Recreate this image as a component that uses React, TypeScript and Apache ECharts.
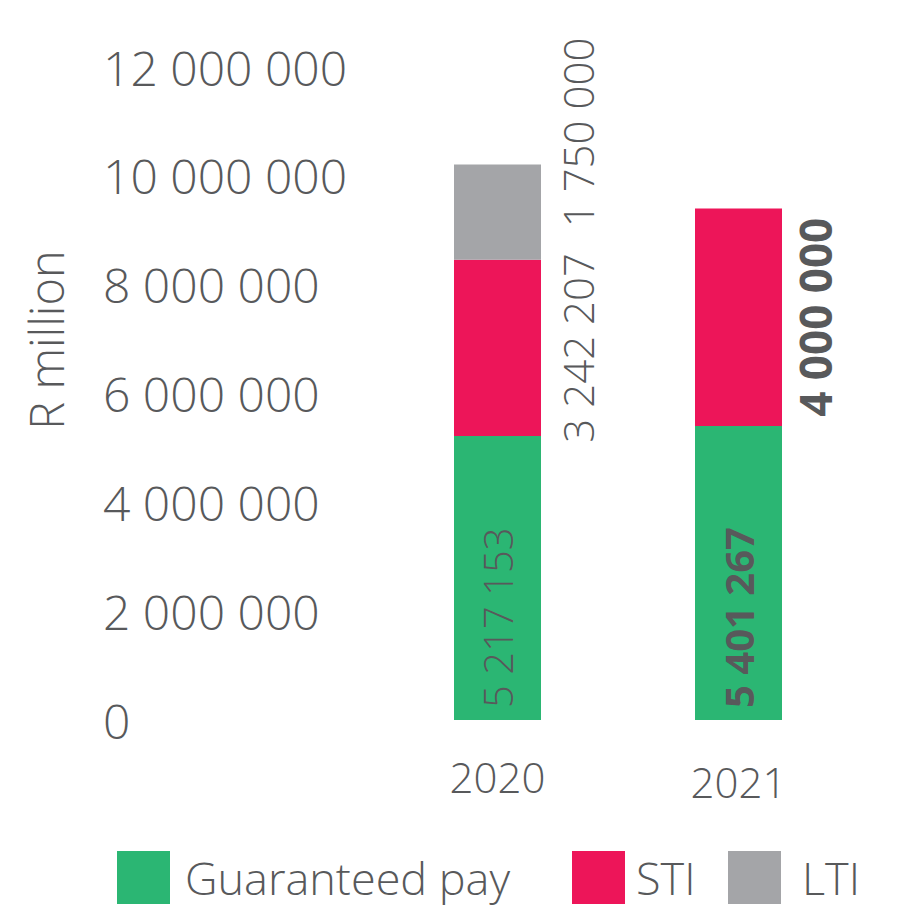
import React, { useEffect, useRef } from "react";
import * as echarts from "echarts";

// Remuneration mix per year (rand)
const years = ["2020", "2021"];
const guaranteedPay = [5217153, 5401267];
const sti = [3242207, 4000000];
const lti: (number | null)[] = [1750000, null];
const yTicks = { min: 0, max: 12000000, interval: 2000000 };

const GREEN = "#2bb673";
const PINK = "#ed1559";
const GREY = "#a4a5a8";
const TEXT = "#58595b";
const FONT = "'Open Sans', 'Noto Sans', sans-serif";

// 5217153 -> "5 217 153"
const spaced = (v: number) =>
  String(Math.round(v)).replace(/\B(?=(\d{3})+(?!\d))/g, " ");

export default function App() {
  const ref = useRef<HTMLDivElement>(null);

  useEffect(() => {
    if (!ref.current) return;
    const chart = echarts.init(ref.current, undefined, { renderer: "svg" });

    const labelBase = {
      show: true,
      rotate: 90,
      color: TEXT,
      fontFamily: FONT,
      fontSize: 41,
      fontWeight: 300 as any,
      formatter: (p: any) => spaced(p.value),
    };

    const legendItem = (name: string, left: number, gap: number) => ({
      data: [name],
      left,
      top: 846,
      orient: "horizontal" as const,
      icon: "rect",
      itemWidth: 53,
      itemHeight: 53,
      selectedMode: false,
      textStyle: {
        color: TEXT,
        fontFamily: FONT,
        fontSize: 45,
        fontWeight: 300 as any,
        padding: [0, 0, 0, gap],
      },
    });

    chart.setOption({
      animation: false,
      grid: { left: 377, right: 41, top: 67, bottom: 204 },
      xAxis: {
        type: "category",
        data: years.map((y, i) => ({
          value: y,
          textStyle: { padding: [i === 1 ? 5 : 0, 0, 0, 0] },
        })),
        axisLine: { show: false },
        axisTick: { show: false },
        axisLabel: {
          color: TEXT,
          fontFamily: FONT,
          fontSize: 42,
          fontWeight: 300 as any,
          margin: 35,
        },
      },
      yAxis: {
        type: "value",
        min: yTicks.min,
        max: yTicks.max,
        interval: yTicks.interval,
        axisLine: { show: false },
        axisTick: { show: false },
        splitLine: { show: false },
        axisLabel: {
          align: "left",
          margin: 274,
          color: TEXT,
          fontFamily: FONT,
          fontSize: 48,
          fontWeight: 300 as any,
          padding: [0, 0, 14, 0],
          formatter: (v: number) => spaced(v),
        },
      },
      legend: [
        legendItem("Guaranteed pay", 112, 10),
        legendItem("STI", 567, 6),
        legendItem("LTI", 723, 16),
      ],
      graphic: [
        {
          type: "text",
          x: 46,
          y: 340,
          rotation: Math.PI / 2,
          style: {
            text: "R million",
            fill: TEXT,
            font: `300 47px ${FONT}`,
            textAlign: "center",
            textVerticalAlign: "middle",
          },
        },
      ],
      series: [
        {
          name: "Guaranteed pay",
          type: "bar",
          stack: "total",
          barWidth: 87,
          itemStyle: { color: GREEN },
          data: guaranteedPay.map((v, i) => ({
            value: v,
            label: {
              ...labelBase,
              position: "insideBottom",
              distance: 12,
              align: "left",
              verticalAlign: "middle",
              fontWeight: (i === 1 ? 700 : 300) as any,
              fontSize: 40,
            },
          })),
        },
        {
          name: "STI",
          type: "bar",
          stack: "total",
          barWidth: 87,
          itemStyle: { color: PINK },
          data: sti.map((v, i) => ({
            value: v,
            label: {
              ...labelBase,
              position: [i === 0 ? 123 : 120, "50%"],
              align: "center",
              verticalAlign: "middle",
              fontWeight: (i === 1 ? 700 : 300) as any,
              fontSize: i === 1 ? 44 : 42,
            },
          })),
        },
        {
          name: "LTI",
          type: "bar",
          stack: "total",
          barWidth: 87,
          itemStyle: { color: GREY },
          data: lti.map((v) => ({
            value: v,
            label: {
              ...labelBase,
              fontSize: 42,
              position: [123, -32],
              align: "center",
              verticalAlign: "middle",
            },
          })),
        },
      ],
    });

    return () => chart.dispose();
  }, []);

  return (
    <div
      ref={ref}
      style={{ position: "absolute", left: 0, top: 0, width: 900, height: 924 }}
    />
  );
}
